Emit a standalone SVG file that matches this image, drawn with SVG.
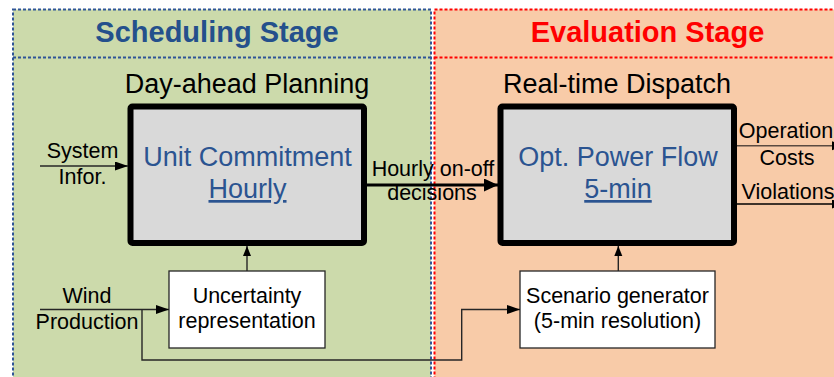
<svg xmlns="http://www.w3.org/2000/svg" width="834" height="377" viewBox="0 0 834 377">
<style>
text{font-family:"Liberation Sans",Arial,sans-serif;}
.title{font-size:29px;font-weight:bold;text-anchor:middle;}
.sub{font-size:27px;text-anchor:middle;fill:#000;}
.main{font-size:27px;text-anchor:middle;fill:#2B5491;}
.lbl{font-size:21.5px;text-anchor:middle;fill:#000;}
.big{fill:#D9D9D9;stroke:#000;stroke-width:6;}
.small{fill:#fff;stroke:#262626;stroke-width:1.3;}
.thin{fill:none;stroke:#262626;stroke-width:1.4;}
</style>
<defs>
<marker id="ah" markerUnits="userSpaceOnUse" markerWidth="14" markerHeight="10" refX="13" refY="4.5" orient="auto">
<path d="M0,0 L13,4.5 L0,9 Z" fill="#000"/>
</marker>
<marker id="ahs" markerUnits="userSpaceOnUse" markerWidth="11" markerHeight="9" refX="10" refY="4" orient="auto">
<path d="M0,0 L10,4 L0,8 Z" fill="#000"/>
</marker>
<marker id="ahb" markerUnits="userSpaceOnUse" markerWidth="15" markerHeight="14" refX="14" refY="6.5" orient="auto">
<path d="M0,0 L14,6.5 L0,13 Z" fill="#000"/>
</marker>
</defs>

<g id="scheduling-stage">
<rect x="13" y="9.5" width="418" height="380" fill="#CCDAAB" stroke="#2F5597" stroke-width="2" stroke-dasharray="3 2"/>
<line x1="13" y1="57.5" x2="431" y2="57.5" stroke="#2F5597" stroke-width="2" stroke-dasharray="3 2"/>
<text class="title" x="217" y="42" fill="#24508C">Scheduling Stage</text>
<text class="sub" x="247" y="93">Day-ahead Planning</text>
</g>

<g id="evaluation-stage">
<rect x="434.5" y="9.5" width="420" height="380" fill="#F8CBA8" stroke="#FF0000" stroke-width="2" stroke-dasharray="3 2"/>
<line x1="434.5" y1="57.5" x2="834" y2="57.5" stroke="#FF0000" stroke-width="2" stroke-dasharray="3 2"/>
<text class="title" x="647.5" y="42" fill="#FF0000">Evaluation Stage</text>
<text class="sub" x="617" y="93">Real-time Dispatch</text>
</g>

<g id="unit-commitment">
<rect class="big" x="130.5" y="106.5" width="233.5" height="136.5" rx="2"/>
<text class="main" x="247.5" y="166">Unit Commitment</text>
<text class="main" x="247.5" y="198" text-decoration="underline">Hourly</text>
</g>

<g id="opt-power-flow">
<rect class="big" x="500.5" y="106.5" width="233.5" height="136.5" rx="2"/>
<text class="main" x="618" y="166">Opt. Power Flow</text>
<text class="main" x="618" y="198" text-decoration="underline">5-min</text>
</g>

<g id="uncertainty-representation">
<rect class="small" x="169" y="271" width="156" height="77"/>
<text class="lbl" x="247" y="303">Uncertainty</text>
<text class="lbl" x="247" y="328">representation</text>
</g>

<g id="scenario-generator">
<rect class="small" x="520" y="271" width="195" height="77"/>
<text class="lbl" x="617.5" y="303">Scenario generator</text>
<text class="lbl" x="617.5" y="328">(5-min resolution)</text>
</g>

<g id="labels">
<text class="lbl" x="82.5" y="158">System</text>
<text class="lbl" x="82.5" y="184">Infor.</text>
<text class="lbl" x="433" y="176">Hourly on-off</text>
<text class="lbl" x="432" y="200">decisions</text>
<text class="lbl" x="87" y="303">Wind</text>
<text class="lbl" x="87" y="329">Production</text>
<text class="lbl" x="786" y="138">Operation</text>
<text class="lbl" x="787" y="165">Costs</text>
<text class="lbl" x="788" y="199">Violations</text>
</g>

<g id="connectors">
<line class="thin" x1="40" y1="166" x2="128" y2="166" marker-end="url(#ah)"/>
<line x1="366" y1="185" x2="498" y2="185" stroke="#000" stroke-width="3.2" marker-end="url(#ahb)"/>
<line class="thin" x1="40" y1="309.5" x2="169" y2="309.5" marker-end="url(#ah)"/>
<polyline class="thin" points="142,309.5 142,360 461.7,360 461.7,309.5 520,309.5" marker-end="url(#ah)"/>
<line class="thin" x1="247" y1="271" x2="247" y2="246" marker-end="url(#ahs)"/>
<line class="thin" x1="618.3" y1="271" x2="618.3" y2="246" marker-end="url(#ahs)"/>
<line x1="737" y1="145.7" x2="845" y2="145.7" stroke="#5A4A40" stroke-width="1.4" marker-end="url(#ah)"/>
<line x1="737" y1="204" x2="845" y2="204" stroke="#000" stroke-width="1.4" marker-end="url(#ah)"/>
</g>
</svg>
